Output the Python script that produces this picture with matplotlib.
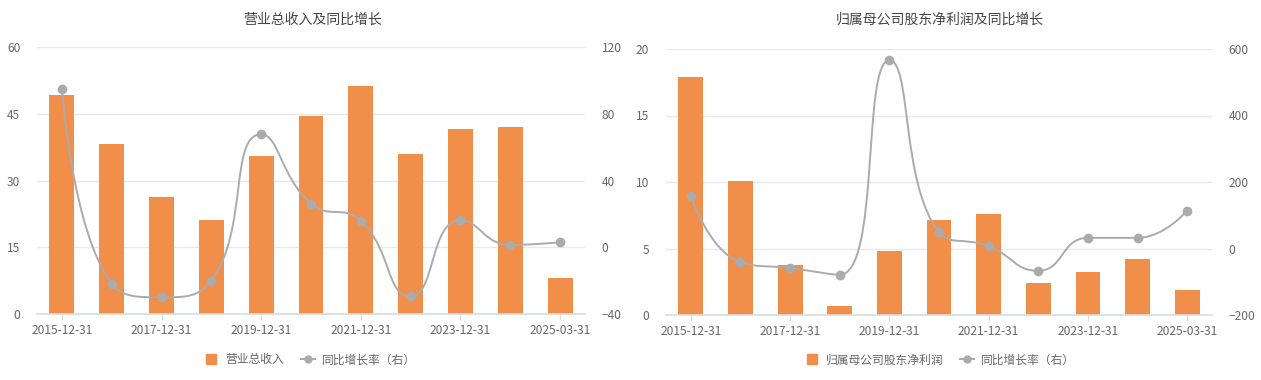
import matplotlib
matplotlib.use("Agg")
import matplotlib.pyplot as plt
import numpy as np
from matplotlib.path import Path
from matplotlib.patches import PathPatch
from matplotlib.lines import Line2D

plt.rcParams['font.family'] = ['Noto Sans CJK SC', 'DejaVu Sans']

categories = ['2015-12-31', '2016-12-31', '2017-12-31', '2018-12-31', '2019-12-31',
              '2020-12-31', '2021-12-31', '2022-12-31', '2023-12-31', '2024-12-31',
              '2025-03-31']
revenue = [49.2, 38.1, 26.3, 21.1, 35.5, 44.6, 51.3, 35.9, 41.6, 42.0, 8.2]
revenue_yoy = [95.1, -21.9, -30.0, -20.0, 67.7, 26.2, 15.8, -29.4, 16.2, 1.4, 3.0]
profit = [17.87, 10.07, 3.74, 0.68, 4.84, 7.15, 7.6, 2.43, 3.24, 4.24, 1.9]
profit_yoy = [158.7, -41.0, -59.0, -79.0, 566.0, 49.0, 7.0, -67.0, 32.0, 32.0, 114.0]

left_title = '营业总收入及同比增长'
right_title = '归属母公司股东净利润及同比增长'
left_bar_name = '营业总收入'
right_bar_name = '归属母公司股东净利润'
line_name = '同比增长率（右）'

left_ticks = [0, 15, 30, 45, 60]
left_ticks2 = [-40, 0, 40, 80, 120]
right_ticks = [0, 5, 10, 15, 20]
right_ticks2 = [-200, 0, 200, 400, 600]

BAR = '#F08E4A'
LINE = '#ABABAB'
GRID = '#E9E9E9'
AXIS = '#D5DCE6'
TXT = '#666666'
TITLE = '#444444'

fig = plt.figure(figsize=(12.61, 3.8), dpi=100)


def _clamp(v, a, b):
    lo, hi = min(a, b), max(a, b)
    return min(max(v, lo), hi)


def smooth_path(ax, xs, ys, smooth=0.5):
    pts = ax.transData.transform(np.column_stack([xs, ys]))
    n = len(pts)
    cp_in = [None] * n
    cp_out = [None] * n
    for i in range(n):
        x, y = pts[i]
        if i == 0 or i == n - 1:
            cp_in[i] = np.array([x, y])
            cp_out[i] = np.array([x, y])
            continue
        px, py = pts[i - 1]
        nx, ny = pts[i + 1]
        vx, vy = nx - px, ny - py
        l0 = np.hypot(x - px, y - py)
        l1 = np.hypot(nx - x, ny - y)
        r = l1 / (l0 + l1) if (l0 + l1) > 0 else 0.5
        ncx = x + vx * smooth * r
        ncy = y + vy * smooth * r
        ncx = _clamp(ncx, nx, x)
        ncy = _clamp(ncy, ny, y)
        vx, vy = ncx - x, ncy - y
        c1x = x - vx * l0 / l1
        c1y = y - vy * l0 / l1
        c1x = _clamp(c1x, px, x)
        c1y = _clamp(c1y, py, y)
        vx, vy = x - c1x, y - c1y
        ncx = x + vx * l1 / l0
        ncy = y + vy * l1 / l0
        cp_in[i] = np.array([c1x, c1y])
        cp_out[i] = np.array([ncx, ncy])
    verts = [pts[0]]
    codes = [Path.MOVETO]
    for i in range(n - 1):
        verts += [cp_out[i], cp_in[i + 1], pts[i + 1]]
        codes += [Path.CURVE4] * 3
    verts = ax.transData.inverted().transform(np.array(verts))
    return Path(verts, codes)


def make_chart(rect, title, title_x, bars, yoy, lt, rt, bar_name, legend_x):
    ax = fig.add_axes(rect)
    x = np.arange(len(categories))
    ax.set_xlim(-0.5, len(categories) - 0.5)
    ax.set_ylim(lt[0], lt[-1])
    ax.set_yticks(lt)
    ax.grid(axis='y', color=GRID, linewidth=1)
    ax.set_axisbelow(True)
    ax.bar(x, bars, width=0.5, color=BAR, zorder=2)
    for s in ['top', 'right', 'left']:
        ax.spines[s].set_visible(False)
    ax.spines['bottom'].set_color(AXIS)
    ax.spines['bottom'].set_linewidth(1.2)
    ax.spines['bottom'].set_zorder(3)
    ticks = list(range(0, len(categories), 2))
    if ticks[-1] != len(categories) - 1:
        ticks.append(len(categories) - 1)
    ax.set_xticks(ticks)
    ax.set_xticklabels([categories[i] for i in ticks])
    ax.tick_params(axis='x', colors=AXIS, length=4, width=1, labelcolor=TXT,
                   labelsize=8.6, pad=3)
    ax.tick_params(axis='y', length=0, labelcolor=TXT, labelsize=8.6, pad=12)

    ax2 = ax.twinx()
    ax2.set_ylim(rt[0], rt[-1])
    ax2.set_yticks(rt)
    for s in ['top', 'right', 'left', 'bottom']:
        ax2.spines[s].set_visible(False)
    ax2.tick_params(axis='y', length=0, labelcolor=TXT, labelsize=8.6, pad=12)
    path = smooth_path(ax2, x, yoy)
    ax2.add_patch(PathPatch(path, facecolor='none', edgecolor=LINE, linewidth=1.4, zorder=3))
    ax2.plot(x, yoy, linestyle='none', marker='o', markersize=6, color=LINE, zorder=4)

    fig.text(title_x, 1 - 20 / 380, title, ha='center', va='center', fontsize=10,
             color=TITLE)
    handles = [Line2D([0], [0], linestyle='none', marker='s', markersize=7,
                      color=BAR),
               Line2D([0], [0], color=LINE, linewidth=1.4, marker='o', markersize=5)]
    fig.legend(handles, [bar_name, line_name], loc='center',
               bbox_to_anchor=(legend_x, 1 - 360 / 380), ncol=2, frameon=False,
               fontsize=8.5, labelcolor=TXT, handlelength=1.2,
               columnspacing=1.4, handletextpad=0.6)
    return ax, ax2


make_chart([37 / 1261, 66 / 380, 548 / 1261, 267 / 380], left_title, 313 / 1261,
           revenue, revenue_yoy, left_ticks, left_ticks2, left_bar_name, 310 / 1261)
make_chart([666 / 1261, 65 / 380, 546 / 1261, 266 / 380], right_title, 940 / 1261,
           profit, profit_yoy, right_ticks, right_ticks2, right_bar_name, 940 / 1261)

fig.savefig('out.png', dpi=100)
